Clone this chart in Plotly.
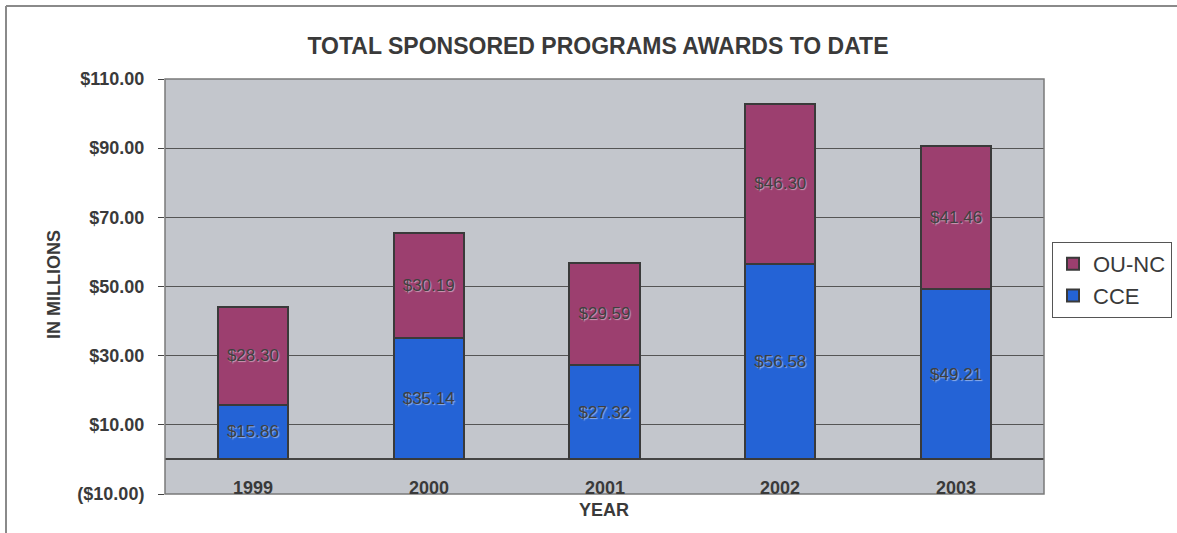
import plotly.graph_objects as go

years = ["1999", "2000", "2001", "2002", "2003"]
cce = [15.86, 35.14, 27.32, 56.58, 49.21]
ounc = [28.30, 30.19, 29.59, 46.30, 41.46]
tick_vals = [-10, 10, 30, 50, 70, 90, 110]
tick_text = ["($10.00)", "$10.00", "$30.00", "$50.00", "$70.00", "$90.00", "$110.00"]

W, H = 1177, 533
ML, MR, MT, MB = 165, 133, 79, 39
PW, PH = W - ML - MR, H - MT - MB

FONT = "Liberation Sans, Arial, sans-serif"
TXT = "#3a3a3a"
label_font = dict(family=FONT, size=17, color="#404040",
                  shadow="1px 1px 1px rgba(255,255,255,0.5)")

fig = go.Figure()
fig.add_trace(go.Bar(
    x=years, y=cce, name="CCE",
    marker=dict(color="#2463d6", line=dict(color="#3a3a3a", width=2)),
    texttemplate="$%{y:.2f}", textposition="inside", insidetextanchor="middle",
    textfont=label_font, constraintext="none", hoverinfo="skip",
))
fig.add_trace(go.Bar(
    x=years, y=ounc, name="OU-NC",
    marker=dict(color="#9c3f6f", line=dict(color="#3a3a3a", width=2)),
    texttemplate="$%{y:.2f}", textposition="inside", insidetextanchor="middle",
    textfont=label_font, constraintext="none", hoverinfo="skip",
))

# category labels sit just below the zero line, inside the plot area
for i, yr in enumerate(years):
    fig.add_annotation(x=i, y=-8.4, xref="x", yref="y", text=yr,
                       showarrow=False, yanchor="middle",
                       font=dict(family=FONT, size=18, color=TXT, weight="bold"))

# axis titles
fig.add_annotation(x=(54 - ML) / PW, y=(MT + PH - 285) / PH, xref="paper", yref="paper",
                   text="IN MILLIONS", textangle=-90, showarrow=False,
                   xanchor="center", yanchor="middle",
                   font=dict(family=FONT, size=18, color=TXT, weight="bold"))
fig.add_annotation(x=(604 - ML) / PW, y=-(510 - (MT + PH)) / PH, xref="paper", yref="paper",
                   text="YEAR", showarrow=False, xanchor="center", yanchor="middle",
                   font=dict(family=FONT, size=18, color=TXT, weight="bold"))

# outer chart frame (left and top edges visible in the scan)
fx = (6 - ML) / PW
fy = (MT + PH - 6) / PH
fig.add_shape(type="line", xref="paper", yref="paper", x0=fx, x1=(W - ML) / PW, y0=fy, y1=fy,
              line=dict(color="#8a8a8a", width=2))
fig.add_shape(type="line", xref="paper", yref="paper", x0=fx, x1=fx, y0=fy, y1=-(MB + 5) / PH,
              line=dict(color="#8a8a8a", width=2))
# plot-area border
fig.add_shape(type="rect", xref="paper", yref="paper", x0=0, x1=1, y0=0, y1=1,
              line=dict(color="#7a7a7a", width=1.5), layer="above")

fig.update_layout(
    width=W, height=H,
    margin=dict(l=ML, r=MR, t=MT, b=MB, autoexpand=False),
    paper_bgcolor="white", plot_bgcolor="#c3c6cc",
    barmode="stack", bargap=0.6,
    showlegend=True,
    title=dict(text="TOTAL SPONSORED PROGRAMS AWARDS TO DATE",
               x=598 / W, xanchor="center", xref="container",
               y=1 - 46 / H, yanchor="middle", yref="container",
               font=dict(family=FONT, size=23, color=TXT, weight="bold")),
    legend=dict(x=(1052 - ML) / PW, xanchor="left", y=(MT + PH - 242) / PH, yanchor="top",
                traceorder="reversed", bordercolor="#555", borderwidth=1, bgcolor="white",
                font=dict(family=FONT, size=22, color=TXT),
                itemclick=False),
    font=dict(family=FONT, color=TXT),
    xaxis=dict(range=[-0.5, 4.5], showticklabels=False, ticks="", showgrid=False,
               zeroline=False, showline=False, fixedrange=True),
    yaxis=dict(range=[-10, 110], tickvals=tick_vals, ticktext=tick_text,
               ticks="outside", ticklen=6, tickcolor="#444", tickwidth=1,
               ticklabelstandoff=10,
               tickfont=dict(family=FONT, size=18, color=TXT, weight="bold"),
               showgrid=True, gridcolor="#555", gridwidth=1,
               zeroline=True, zerolinecolor="#444", zerolinewidth=1.5,
               showline=False, fixedrange=True, automargin=False),
)

fig.write_html("out.html", config={"displayModeBar": False},
               post_script="document.body.style.margin='0px';")
